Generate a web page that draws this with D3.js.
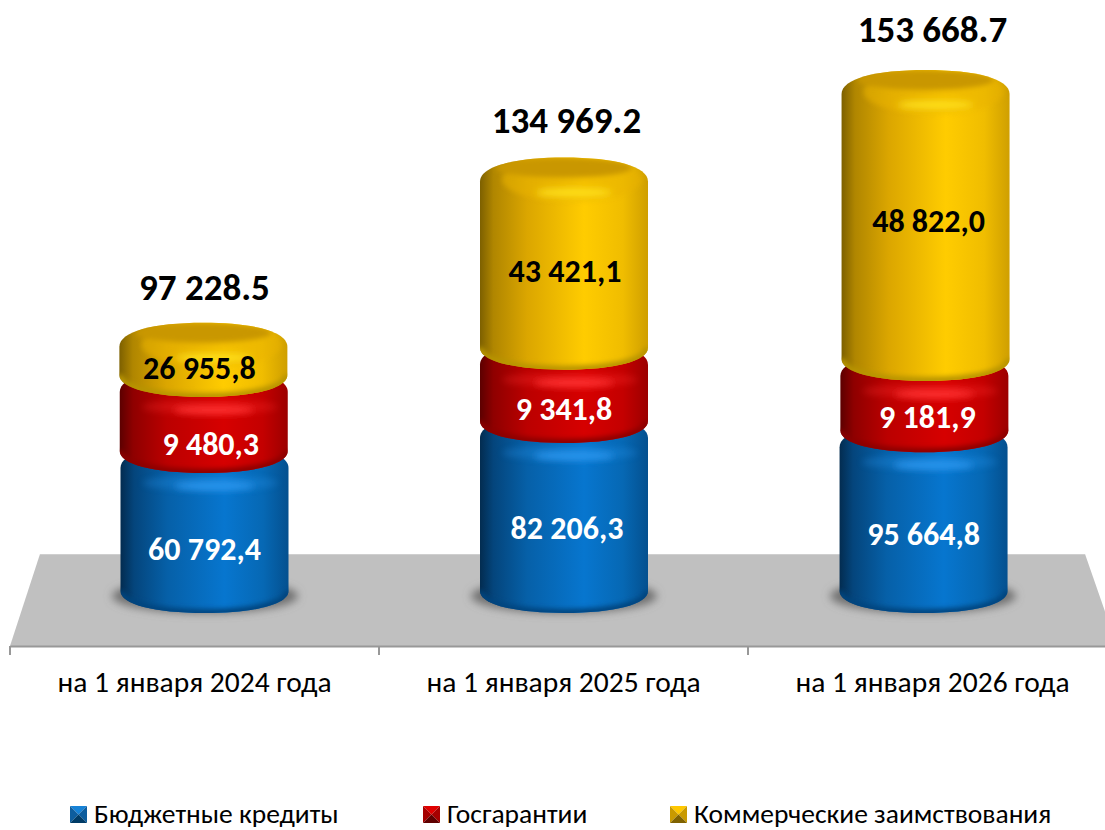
<!DOCTYPE html>
<html><head><meta charset="utf-8">
<script src="https://cdn.jsdelivr.net/npm/d3@7"></script>
<style>html,body{margin:0;padding:0;background:#fff;overflow:hidden}svg{display:block}
text{font-family:Carlito,Lato,"Open Sans",sans-serif}</style></head>
<body><svg id="c" width="1105" height="830"></svg>
<script>
// Values printed on the chart
const categories = ["на 1 января 2024 года","на 1 января 2025 года","на 1 января 2026 года"];
const seriesNames = ["Бюджетные кредиты","Госгарантии","Коммерческие заимствования"];
const budgetCredits = [60792.4, 82206.3, 95664.8];
const stateGuarantees = [9480.3, 9341.8, 9181.9];
const commercialBorrowing = [26955.8, 43421.1, 48822.0];
const totals = [97228.5, 134969.2, 153668.7];
// Heights the picture actually draws (the reference's bars are not proportional to their labels), read off in the same units
const budgetDrawn = [42300, 51400, 48600];
const guaranteesDrawn = [23000, 22100, 21500];
const commercialDrawn = [9100, 50800, 80700];

const W = 1105, H = 830;
const svg = d3.select("#c");
const defs = svg.append("defs");
[["b0",.6],["b1",1],["b2",2.5],["b3",3.5],["b4",4.5]].forEach(([id,s])=>{
  defs.append("filter").attr("id",id).attr("x","-50%").attr("y","-400%").attr("width","200%").attr("height","900%")
    .append("feGaussianBlur").attr("stdDeviation",s);
});
const palette = [
  {stops:[[0,"#032c50"],[.08,"#04457c"],[.28,"#0660a8"],[.62,"#0776cf"],[.85,"#0668b4"],[1,"#04508f"]],cap:"#0560a8",hi:"#2a96ee",low:"#03457f",text:"#fff",tri:["#1382d6","#0a5d9e","#0a5d9e","#033a66"]},
  {stops:[[0,"#5c0000"],[.08,"#8f0000"],[.28,"#bb0000"],[.62,"#d60000"],[.85,"#c40000"],[1,"#9c0000"]],cap:"#b00000",hi:"#ff3030",low:"#8c0000",text:"#fff",tri:["#e00000","#a60000","#a60000","#5f0000"]},
  {stops:[[0,"#7d6000"],[.08,"#b08600"],[.28,"#dba600"],[.62,"#ffcc00"],[.85,"#f0bd00"],[1,"#cf9f00"]],cap:"#c99700",hi:"#ffe21a",low:"#b89400",text:"#000",tri:["#ffc800","#c99a00","#c99a00","#7f6200"]}
];
palette.forEach((p,i)=>{
  const g = defs.append("linearGradient").attr("id","body"+i);
  p.stops.forEach(s=>g.append("stop").attr("offset",s[0]).attr("stop-color",s[1]));
});

// scales
const xAxisScale = d3.scaleBand().domain(categories).range([10,1117]);
const xBar = d3.scaleBand().domain(categories).range([25.5,1102.5]);
const y = d3.scaleLinear().domain([0,155000]).range([613,100]);
const midBar = xBar(categories[1])+xBar.bandwidth()/2;
const R = 84, RY = 22;
const lean = (c,py)=> c + (c-midBar)/xBar.step()*(y(0)-py)*0.007;

// floor
const floorY = 646;
svg.append("path").attr("d",d3.line()([[40,554],[1085,554],[1117,floorY],[10,floorY]])).attr("fill","#c0c0c0");
svg.append("path").attr("d",d3.line()([[40,554.5],[1085,554.5]])).attr("stroke","#cfcfcf").attr("fill","none");

// shadows
svg.append("g").selectAll("ellipse").data(categories).join("ellipse")
  .attr("cx",d=>xBar(d)+xBar.bandwidth()/2).attr("cy",596).attr("rx",93).attr("ry",17)
  .attr("fill","#707070").attr("filter","url(#b4)");

// axis
const axisG = svg.append("g").attr("transform",`translate(0,${floorY})`)
  .call(d3.axisBottom(xAxisScale).tickSize(0).tickPadding(25));
axisG.select(".domain").attr("stroke","#989898").attr("stroke-width",2);
axisG.selectAll("text").attr("font-size",29.5).attr("fill","#000");
axisG.selectAll("line.b").data(d3.range(0,4)).join("line").attr("class","b")
  .attr("x1",i=>xAxisScale.range()[0]+i*xAxisScale.step()).attr("x2",i=>xAxisScale.range()[0]+i*xAxisScale.step())
  .attr("y1",0).attr("y2",9).attr("stroke","#989898").attr("stroke-width",2);

// stacked cylinders
const rows = categories.map((c,i)=>({cat:c,s0:budgetDrawn[i],s1:guaranteesDrawn[i],s2:commercialDrawn[i]}));
const stacked = d3.stack().keys(["s0","s1","s2"])(rows);
const printed = [budgetCredits,stateGuarantees,commercialBorrowing];
const fmt = d3.formatLocale({decimal:",",thousands:" ",grouping:[3]}).format(",.1f");
const fmtTotal = d3.formatLocale({decimal:".",thousands:" ",grouping:[3]}).format(",.1f");
const labelNudge = [[[0,6],[3,0],[0,1]],[[7,9],[0,2],[3,0]],[[-4,-14],[1,-15],[3,-27]]];

function silhouette(cx,yb,yt,r,ct){
  const cb=yb-RY, k=.6;
  return `M${cx-r},${ct+2}C${cx-r},${ct-RY*k} ${cx-r*k},${ct-RY} ${cx},${ct-RY}`+
         `C${cx+r*k},${ct-RY} ${cx+r},${ct-RY*k} ${cx+r},${ct+2}`+
         `L${cx+r},${cb}C${cx+r},${cb+RY*k} ${cx+r*k},${cb+RY} ${cx},${cb+RY}`+
         `C${cx-r*k},${cb+RY} ${cx-r},${cb+RY*k} ${cx-r},${cb}Z`;
}
const labels=[];
stacked.forEach((layer,si)=>{
  const p = palette[si];
  layer.forEach((d,ci)=>{
    const c = xBar(d.data.cat)+xBar.bandwidth()/2;
    const yb=y(d[0]), yt=y(d[1]);
    const cx = lean(c,(yb+yt)/2);
    const g = svg.append("g");
    const id=`clip${si}${ci}`;
    const path = silhouette(cx,yb,yt,R, si===2 ? yt-RY : yt-7);
    defs.append("clipPath").attr("id",id).append("path").attr("d",path);
    g.append("path").attr("d",path).attr("fill",`url(#body${si})`);
    const inner = g.append("g").attr("clip-path",`url(#${id})`);
    // darker lower rim
    const cb=yb-RY;
    inner.append("path").attr("d",`M${cx-R},${cb}C${cx-R},${cb+RY*.6} ${cx-R*.6},${cb+RY} ${cx},${cb+RY}C${cx+R*.6},${cb+RY} ${cx+R},${cb+RY*.6} ${cx+R},${cb}`)
      .attr("fill","none").attr("stroke",p.low).attr("stroke-width",8).attr("filter","url(#b2)");
    if(si===2){
      const top=yt-2*RY;
      inner.append("ellipse").attr("cx",cx+8).attr("cy",top+22).attr("rx",R-14).attr("ry",RY).attr("fill","#eab400").attr("opacity",.55).attr("filter","url(#b2)");
      inner.append("ellipse").attr("cx",cx).attr("cy",top+10).attr("rx",R-16).attr("ry",10).attr("fill",p.cap).attr("filter","url(#b2)");
      inner.append("ellipse").attr("cx",cx+10).attr("cy",top+35).attr("rx",38).attr("ry",4).attr("fill",p.hi).attr("filter","url(#b3)");
    } else {
      inner.append("ellipse").attr("cx",cx+6).attr("cy",yt+10).attr("rx",R-16).attr("ry",7).attr("fill",p.hi).attr("opacity",.3).attr("filter","url(#b3)");
      inner.append("ellipse").attr("cx",cx+10).attr("cy",yt+13).attr("rx",40).attr("ry",4).attr("fill",p.hi).attr("filter","url(#b3)");
    }
    const n=labelNudge[si][ci];
    labels.push({t:fmt(printed[si][ci]),x:cx+n[0],y:(yb+yt)/2+n[1],fill:p.text});
  });
});
svg.append("g").selectAll("text").data(labels).join("text")
  .attr("x",d=>d.x).attr("y",d=>d.y).attr("dy","0.35em").attr("text-anchor","middle")
  .attr("font-size",32).attr("font-weight",700).attr("fill",d=>d.fill).text(d=>d.t);

// totals
const totalDx=[10,3,0], totalDy=[-23,-25,-28];
svg.append("g").selectAll("text").data(categories).join("text")
  .attr("x",(d,i)=>xAxisScale(d)+xAxisScale.bandwidth()/2+totalDx[i])
  .attr("y",(d,i)=>y(d3.sum(stacked,l=>l[i][1]-l[i][0]))-2*RY+totalDy[i])
  .attr("text-anchor","middle").attr("font-size",37).attr("font-weight",700).attr("fill","#000")
  .text((d,i)=>fmtTotal(totals[i]));

// legend
const legendX=[70,423,670];
const lg=svg.append("g").selectAll("g").data(seriesNames).join("g").attr("transform",(d,i)=>`translate(${legendX[i]},806)`);
lg.each(function(d,i){
  const g=d3.select(this), s=17, c=s/2, t=palette[i].tri;
  const sw=g.append("g").attr("filter","url(#b0)");
  [[[0,0],[s,0],[c,c]],[[0,0],[0,s],[c,c]],[[s,0],[s,s],[c,c]],[[0,s],[s,s],[c,c]]].forEach((tr,j)=>{
    sw.append("path").attr("d",d3.line()(tr)+"Z").attr("fill",t[j]);
  });
  g.append("text").attr("x",24).attr("y",17).attr("font-size",27.5).attr("fill","#000").text(d);
});
</script></body></html>
